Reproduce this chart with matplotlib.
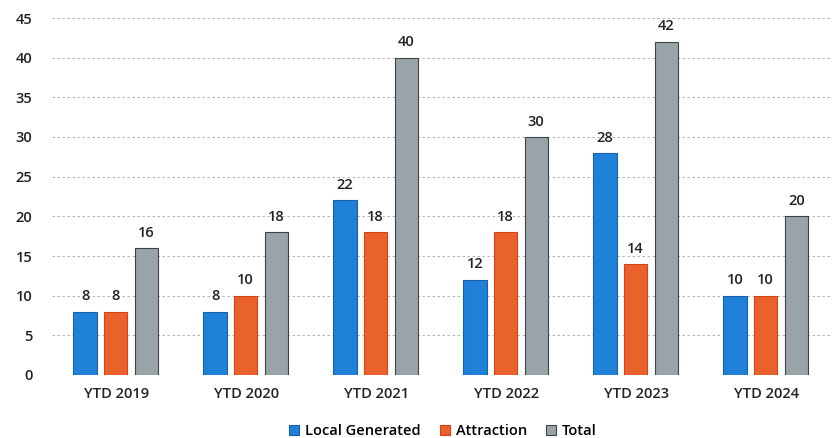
import matplotlib
matplotlib.use("Agg")
import matplotlib.pyplot as plt
import numpy as np

# ---------- data ----------
categories = ["YTD 2019", "YTD 2020", "YTD 2021", "YTD 2022", "YTD 2023", "YTD 2024"]
local_generated = [8, 8, 22, 12, 28, 10]
attraction = [8, 10, 18, 18, 14, 10]
total = [16, 18, 40, 30, 42, 20]
y_ticks = [0, 5, 10, 15, 20, 25, 30, 35, 40, 45]

series = [
    ("Local Generated", local_generated, "#1f80d8", "#1a5fa8"),
    ("Attraction", attraction, "#e9622b", "#d8401c"),
    ("Total", total, "#9aa3a7", "#3c4448"),
]

plt.rcParams["font.family"] = ["Open Sans", "DejaVu Sans"]

fig = plt.figure(figsize=(8.4, 4.38), dpi=100)
ax = fig.add_axes([52 / 840, 1 - 375 / 438, 780 / 840, 357 / 438])

x = np.arange(len(categories))
w = 0.18
step = 0.235
for i, (name, vals, face, edge) in enumerate(series):
    pos = x + (i - 1) * step - 0.01
    bars = ax.bar(pos, vals, width=w, color=face, edgecolor=edge,
                  linewidth=0.8, label=name, zorder=3)
    for b, v in zip(bars, vals):
        ax.annotate(str(v), (b.get_x() + b.get_width() / 2, v),
                    xytext=(0, 6), textcoords="offset points",
                    ha="center", va="bottom", fontsize=10.5,
                    fontweight="semibold", color="#222222")

ax.set_xlim(-0.5, len(categories) - 0.5)
ax.set_ylim(0, 45)
ax.set_yticks(y_ticks)
ax.set_xticks(x)
ax.set_xticklabels(categories)
ax.tick_params(axis="both", length=0, labelsize=10.5, colors="#222222")
ax.tick_params(axis="x", pad=9)
ax.tick_params(axis="y", pad=14)
for lab in ax.get_xticklabels() + ax.get_yticklabels():
    lab.set_fontweight("semibold")

ax.yaxis.grid(True, linestyle=(0, (3, 3)), color="#a8a8a8", linewidth=0.6, zorder=0)
for s in ax.spines.values():
    s.set_visible(False)

leg = fig.legend(loc="center", bbox_to_anchor=(443 / 840, 1 - 431 / 438), ncol=3,
                 frameon=False, fontsize=10.5, handlelength=0.7, handleheight=0.7,
                 handletextpad=0.4, columnspacing=1.3)
for t in leg.get_texts():
    t.set_fontweight("semibold")

fig.savefig("out.png", dpi=100, facecolor="white")
